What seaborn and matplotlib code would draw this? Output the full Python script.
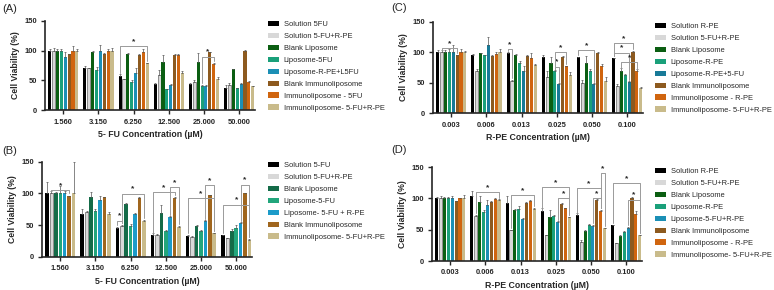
import numpy as np
import pandas as pd
import matplotlib
matplotlib.use("Agg")
import matplotlib.pyplot as plt
import seaborn as sns

sns.set_style("ticks")
plt.rcParams['font.family'] = ['Liberation Sans', 'DejaVu Sans']

# ---- data ----
fu_conc = ['1.560', '3.150', '6.250', '12.500', '25.000', '50.000']
rpe_conc = ['0.003', '0.006', '0.013', '0.025', '0.050', '0.100']

labels_a = ['Solution 5FU', 'Solution 5-FU+R-PE', 'Blank Liposome', 'Liposome-5FU',
            'Liposome-R-PE+L5FU', 'Blank Immunoliposome', 'Immunoliposome - 5FU',
            'Immunoliposome- 5-FU+R-PE']
labels_b = ['Solution 5-FU', 'Solution 5-FU+R-PE', 'Blank Liposome', 'Liposome-5-FU',
            'Liposome- 5-FU + R-PE', 'Blank Immunoliposome', 'Immunoliposome- 5-FU+R-PE']
labels_c = ['Solution R-PE', 'Solution 5-FU+R-PE', 'Blank Liposome', 'Liposome-R-PE',
            'Liposome-R-PE+5-FU', 'Blank Immunoliposome', 'Immunoliposome - R-PE',
            'Immunoliposome- 5-FU+R-PE']
labels_d = ['Solution R-PE', 'Solution 5-FU+R-PE', 'Blank Liposome', 'Liposome-R-PE',
            'Liposome-5-FU+R-PE', 'Blank Immunoliposome', 'Immunoliposome - R-PE',
            'Immunoliposome- 5-FU+R-PE']

# rows = concentration, cols = treatment
vals_a = [[100, 100, 100, 100, 90, 95, 100, 100],
          [71, 70, 98, 67, 100, 95, 100, 100],
          [58, 52, 95, 48, 62, 93, 97, 79],
          [44, 59, 81, 35, 42, 93, 93, 62],
          [44, 48, 81, 41, 41, 97, 78, 52],
          [38, 43, 69, 37, 44, 100, 47, 40]]
err_a = [[3, 5, 3, 2, 8, 0, 8, 2],
         [4, 1, 2, 5, 10, 1, 2, 5],
         [2, 1, 1, 2, 8, 1, 6, 1],
         [1, 9, 11, 1, 2, 1, 1, 4],
         [1, 2, 15, 1, 1, 1, 1, 4],
         [5, 3, 0, 1, 1, 1, 2, 1]]

vals_b = [[100, 100, 100, 100, 100, 96, 100],
          [67, 71, 94, 72, 90, 94, 67],
          [46, 49, 83, 49, 67, 93, 57],
          [34, 35, 69, 41, 62, 93, 47],
          [33, 31, 49, 41, 56, 97, 37],
          [34, 29, 41, 45, 53, 100, 27]]
err_b = [[18, 4, 2, 12, 4, 0, 50],
         [8, 1, 8, 4, 6, 1, 4],
         [1, 1, 1, 2, 2, 1, 1],
         [3, 1, 12, 1, 2, 1, 1],
         [1, 1, 1, 1, 2, 1, 1],
         [1, 1, 3, 5, 2, 1, 1]]

vals_c = [[100, 100, 100, 100, 100, 95, 100, 100],
          [95, 70, 98, 95, 112, 94, 97, 100],
          [98, 53, 96, 82, 70, 94, 91, 79],
          [93, 60, 82, 69, 48, 93, 77, 63],
          [92, 49, 82, 69, 48, 99, 78, 53],
          [90, 45, 70, 62, 51, 101, 69, 41]]
err_c = [[3, 3, 4, 6, 12, 1, 5, 2],
         [2, 2, 1, 1, 13, 1, 4, 6],
         [3, 2, 1, 3, 8, 1, 8, 1],
         [2, 9, 11, 2, 2, 1, 1, 5],
         [1, 5, 12, 3, 2, 1, 2, 6],
         [1, 3, 4, 3, 2, 1, 4, 2]]

vals_d = [[100, 100, 100, 100, 100, 95, 100, 100],
          [104, 72, 94, 78, 89, 94, 99, 97],
          [92, 49, 81, 83, 67, 93, 96, 83],
          [79, 41, 70, 72, 62, 91, 84, 70],
          [73, 30, 48, 57, 56, 98, 80, 52],
          [57, 28, 40, 47, 53, 101, 75, 41]]
err_d = [[2, 3, 2, 2, 3, 1, 1, 5],
         [8, 1, 10, 4, 8, 1, 2, 2],
         [12, 1, 2, 4, 2, 1, 2, 2],
         [6, 1, 12, 1, 2, 1, 1, 1],
         [4, 3, 1, 2, 2, 1, 2, 1],
         [1, 1, 1, 1, 1, 1, 5, 1]]

# significance brackets: (concentration index, first bar, last bar, height)
sig_a = [(2, 0, 7, 107), (4, 3, 6, 90)]
sig_b = [(0, 1, 5, 105), (2, 0, 1, 57), (2, 1, 6, 99), (3, 0, 5, 102), (3, 4, 6, 110),
         (4, 0, 6, 92), (4, 4, 6, 113), (5, 0, 6, 82), (5, 4, 6, 114)]
sig_c = [(0, 1, 5, 107), (2, 0, 1, 105), (3, 3, 4, 76), (3, 3, 6, 100), (4, 0, 4, 103),
         (5, 0, 5, 115), (5, 0, 4, 99), (5, 2, 6, 84)]
sig_d = [(1, 1, 7, 110), (2, 1, 7, 105), (3, 0, 7, 118), (3, 4, 7, 100), (4, 0, 6, 116),
         (4, 4, 6, 100), (4, 6, 7, 140), (5, 0, 7, 124), (5, 4, 7, 98)]

pal_a = ['#000000', '#d8d8d8', '#0b5e12', '#1aa07a', '#1b8fb5', '#8d5a1f', '#d0650f', '#c9bb8b']
pal_b = ['#000000', '#d8d8d8', '#146b48', '#22a67c', '#1c9bc9', '#a0661e', '#c9bb8b']
pal_c = ['#000000', '#d8d8d8', '#0b5e12', '#1aa07a', '#187a98', '#8d5a1f', '#d0650f', '#c9bb8b']
pal_d = ['#000000', '#d8d8d8', '#0b5e12', '#1aa07a', '#1b8fb5', '#8d5a1f', '#d0650f', '#c9bb8b']


def to_long(conc, labels, vals):
    rows = []
    for i, c in enumerate(conc):
        for j, lab in enumerate(labels):
            rows.append({'conc': c, 'treat': lab, 'viab': vals[i][j]})
    return pd.DataFrame(rows)


def draw_panel(ax, conc, labels, vals, errs, pal, sigs, xlabel, leg_xy):
    df = to_long(conc, labels, vals)
    sns.barplot(data=df, x='conc', y='viab', hue='treat', order=conc, hue_order=labels,
                palette=pal, width=0.88, gap=0.2, errorbar=None, ax=ax,
                linewidth=0, saturation=1)
    bars = list(ax.containers)
    # error bars (upper only) placed on the drawn bars
    for k, cont in enumerate(bars):
        xs = [b.get_x() + b.get_width() / 2 for b in cont]
        ys = [b.get_height() for b in cont]
        e = [errs[i][k] for i in range(len(conc))]
        ax.errorbar(xs, ys, yerr=[np.zeros(len(e)), e], fmt='none', ecolor='#555555',
                    elinewidth=0.5, capsize=1.0, capthick=0.5, zorder=1)
        if k == 1:
            for b in cont:
                b.set_edgecolor('#666666')
                b.set_linewidth(0.5)
    # significance brackets
    for g, i, j, h in sigs:
        b1 = bars[i][g]
        b2 = bars[j][g]
        x1 = b1.get_x() + b1.get_width() / 2
        x2 = b2.get_x() + b2.get_width() / 2
        y1 = b1.get_height() + 4
        y2 = b2.get_height() + 4
        ax.plot([x1, x1, x2, x2], [y1, h, h, y2], color='#9a9a9a', lw=0.7, zorder=3)
        ax.text((x1 + x2) / 2, h + 2, '*', ha='center', va='bottom', fontsize=6,
                fontweight='bold')
    ax.set_ylim(0, 150)
    ax.set_yticks([0, 50, 100, 150])
    ax.set_xlim(-0.52, len(conc) - 0.55)
    ax.set_ylabel('Cell Viability (%)', fontsize=6.2, fontweight='bold', labelpad=3)
    ax.set_xlabel(xlabel, fontsize=6.3, fontweight='bold', labelpad=3.5)
    ax.tick_params(axis='both', labelsize=5.4, width=1, length=3, pad=3)
    for t in ax.get_xticklabels() + ax.get_yticklabels():
        t.set_fontweight('bold')
    for s in ['left', 'bottom']:
        ax.spines[s].set_linewidth(1.2)
    sns.despine(ax=ax)
    handles, labs = ax.get_legend_handles_labels()
    ax.legend(handles, labs, loc='upper left', bbox_to_anchor=leg_xy,
              bbox_transform=ax.figure.transFigure, frameon=False,
              fontsize=5.4, handlelength=1.5, handleheight=0.7, labelspacing=0.62,
              handletextpad=0.6, borderaxespad=0, borderpad=0)


W, H = 774, 290
fig = plt.figure(figsize=(W / 100, H / 100), dpi=100)
ax_a = fig.add_axes([45 / W, 1 - 110.3 / H, 210 / W, 89.6 / H])
ax_b = fig.add_axes([42 / W, 1 - 256.7 / H, 210 / W, 95 / H])
ax_c = fig.add_axes([433 / W, 1 - 113.3 / H, 210 / W, 91.6 / H])
ax_d = fig.add_axes([432 / W, 1 - 261 / H, 210 / W, 94 / H])

draw_panel(ax_a, fu_conc, labels_a, vals_a, err_a, pal_a, sig_a,
           '5- FU Concentration (µM)', (268 / W, 1 - 21 / H))
draw_panel(ax_b, fu_conc, labels_b, vals_b, err_b, pal_b, sig_b,
           '5- FU Concentration (µM)', (268 / W, 1 - 162 / H))
draw_panel(ax_c, rpe_conc, labels_c, vals_c, err_c, pal_c, sig_c,
           'R-PE Concentration (µM)', (655 / W, 1 - 23 / H))
draw_panel(ax_d, rpe_conc, labels_d, vals_d, err_d, pal_d, sig_d,
           'R-PE Concentration (µM)', (655 / W, 1 - 168 / H))

fig.text(0.003, 0.985, '(A)', fontsize=8, va='top')
fig.text(0.003, 0.495, '(B)', fontsize=8, va='top')
fig.text(0.506, 0.99, '(C)', fontsize=8, va='top')
fig.text(0.506, 0.50, '(D)', fontsize=8, va='top')

fig.savefig('out.png', dpi=100)
